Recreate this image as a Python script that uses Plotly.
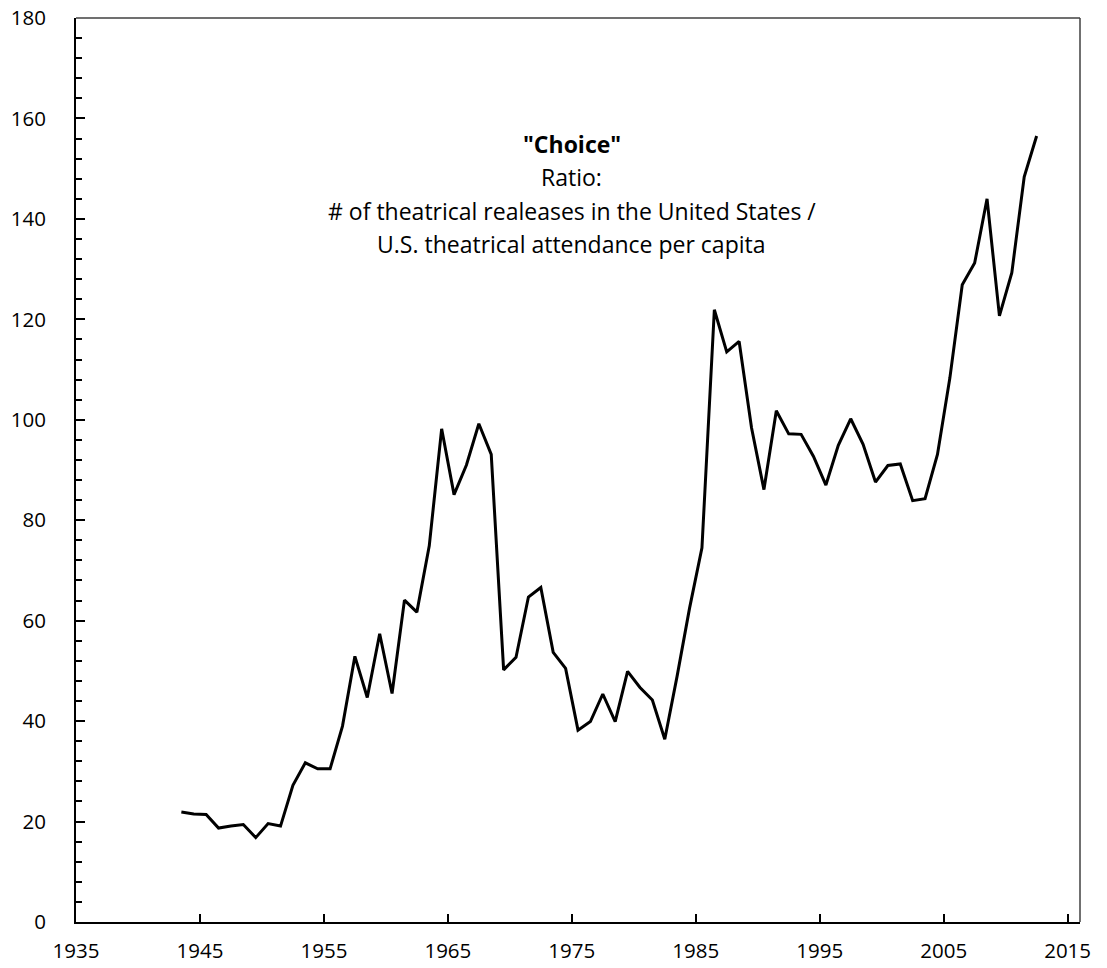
import plotly.graph_objects as go

years = list(range(1943, 2013))
ratio = [21.9, 21.5, 21.4, 18.7, 19.1, 19.4, 16.8, 19.6, 19.1, 27.2,
         31.7, 30.5, 30.5, 39.0, 52.9, 44.7, 57.4, 45.5, 64.1, 61.7,
         74.9, 98.2, 85.1, 91.0, 99.2, 93.1, 50.2, 52.7, 64.7, 66.6,
         53.7, 50.5, 38.2, 39.9, 45.4, 39.9, 49.9, 46.7, 44.2, 36.4,
         49.0, 62.5, 74.5, 121.9, 113.5, 115.6, 98.4, 86.1, 101.8, 97.2,
         97.1, 92.7, 87.0, 94.9, 100.2, 95.1, 87.6, 90.9, 91.2, 83.9,
         84.3, 93.1, 108.3, 126.9, 131.2, 144.0, 120.7, 129.3, 148.4, 156.5]

# Axis ticks (Excel-style axis starting at 1934.5, labels shown rounded)
x_tick_vals = [1934.5, 1944.5, 1954.5, 1964.5, 1974.5, 1984.5, 1994.5, 2004.5, 2014.5]
x_tick_text = ["1935", "1945", "1955", "1965", "1975", "1985", "1995", "2005", "2015"]
y_tick_vals = [0, 20, 40, 60, 80, 100, 120, 140, 160, 180]

title_lines = ['<b>"Choice"</b>', "Ratio:",
               "# of theatrical realeases in the United States /",
               "U.S. theatrical attendance per capita"]
title_y = [154.9, 148.3, 141.5, 135.1]

FONT = "Open Sans"
TICK_SIZE = 20.5

fig = go.Figure()
fig.add_trace(go.Scatter(x=years, y=ratio, mode="lines",
                         line=dict(color="black", width=3),
                         showlegend=False, hoverinfo="x+y"))

# page body has an 8px margin; offset the figure so the plot area lands where the reference has it
fig.update_layout(
    width=1099, height=960,
    margin=dict(l=68, r=27, t=10, b=46, autoexpand=False),
    paper_bgcolor="white", plot_bgcolor="white",
    font=dict(family=FONT, size=20, color="black"),
)

fig.update_xaxes(
    range=[1934.5, 2015.5], showgrid=False, zeroline=False, automargin=False,
    showline=True, linecolor="black", linewidth=2,
    tickmode="array", tickvals=x_tick_vals, ticktext=x_tick_text,
    ticks="inside", ticklen=8, tickwidth=2, tickcolor="black",
    ticklabelstandoff=9, ticklabeloverflow="allow",
    tickfont=dict(family=FONT, size=TICK_SIZE, color="black"),
)
fig.update_yaxes(
    range=[0, 180], showgrid=False, zeroline=False, automargin=False,
    showline=True, linecolor="black", linewidth=2,
    tickmode="array", tickvals=y_tick_vals,
    ticks="inside", ticklen=9, tickwidth=2, tickcolor="black",
    minor=dict(dtick=4, ticks="inside", ticklen=6, tickwidth=2, tickcolor="black", showgrid=False),
    ticklabelstandoff=24, ticklabeloverflow="allow",
    tickfont=dict(family=FONT, size=TICK_SIZE, color="black"),
)

# top and right border of the plot area
fig.add_shape(type="line", xref="paper", yref="paper", x0=0, x1=1, y0=1, y1=1,
              line=dict(color="#404040", width=1.5))
fig.add_shape(type="line", xref="paper", yref="paper", x0=1, x1=1, y0=0, y1=1,
              line=dict(color="#404040", width=1.5))

for txt, ty in zip(title_lines, title_y):
    fig.add_annotation(
        x=1974.5, y=ty, xref="x", yref="y", showarrow=False,
        text=txt, align="center", yanchor="middle",
        font=dict(family=FONT, size=23, color="black"),
    )

fig.write_html("out.html")
